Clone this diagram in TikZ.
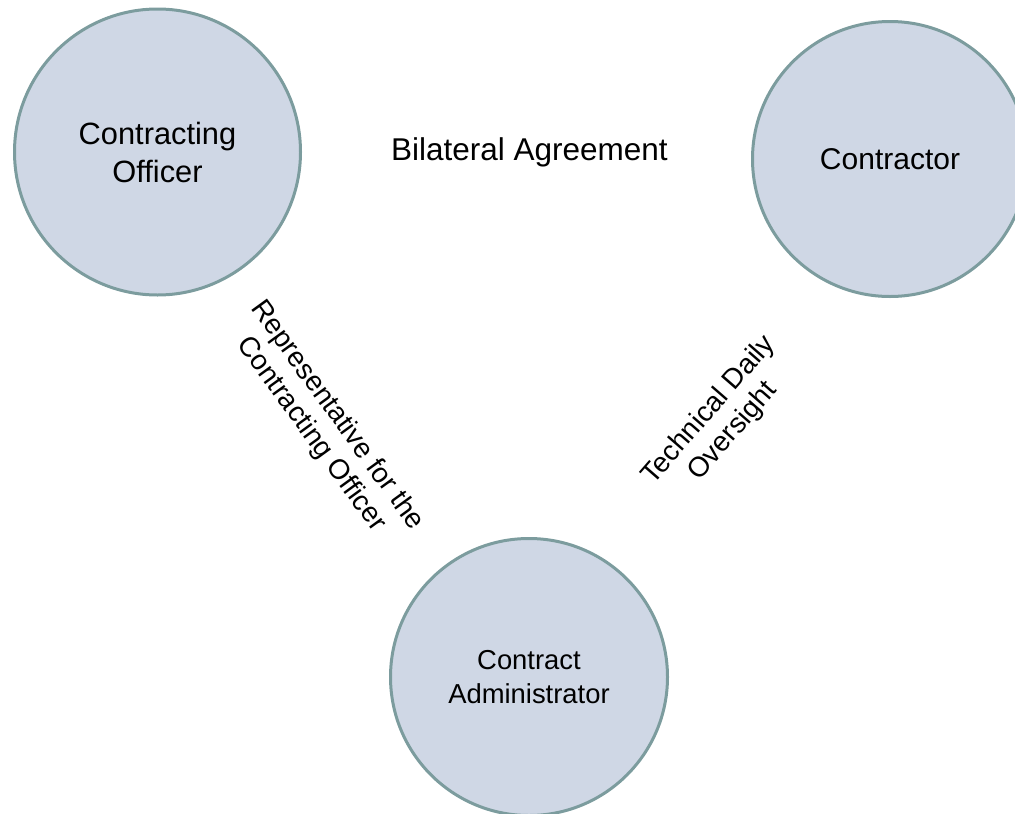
\documentclass[tikz,border=0pt]{standalone}
\usepackage{fontspec}
\setmainfont{Liberation Sans}
\definecolor{circfill}{HTML}{CFD7E5}
\definecolor{circline}{HTML}{7C9C9E}
\tikzset{
  party/.style={circle, draw=circline, fill=circfill, line width=3pt, align=center, inner sep=0pt},
  biglabel/.style={align=center, inner sep=0pt, font=\fontsize{31.5}{38}\selectfont},
  rotlabel/.style={align=center, inner sep=0pt, font=\fontsize{28}{32}\selectfont}
}
\begin{document}
\begin{tikzpicture}[x=1pt,y=-1pt]
\useasboundingbox (0,0) rectangle (1015,814);
\node[party, minimum size=286pt, font=\fontsize{30.8}{38}\selectfont] (co) at (157.5,152) {Contracting\\Officer};
\node[party, minimum size=275pt, font=\fontsize{30}{36}\selectfont] (ctr) at (890,159) {Contractor};
\node[party, minimum size=277pt, font=\fontsize{27.4}{34}\selectfont] (ca) at (529,677) {Contract\\Administrator};
\node[biglabel] (bil) at (529.5,152) {Bilateral Agreement};
\node[rotlabel, rotate=-54] (rep) at (324,425) {Representative for the\\Contracting Officer};
\node[rotlabel, rotate=49] (tdo) at (721,421) {Technical Daily\\Oversight};
\end{tikzpicture}
\end{document}
